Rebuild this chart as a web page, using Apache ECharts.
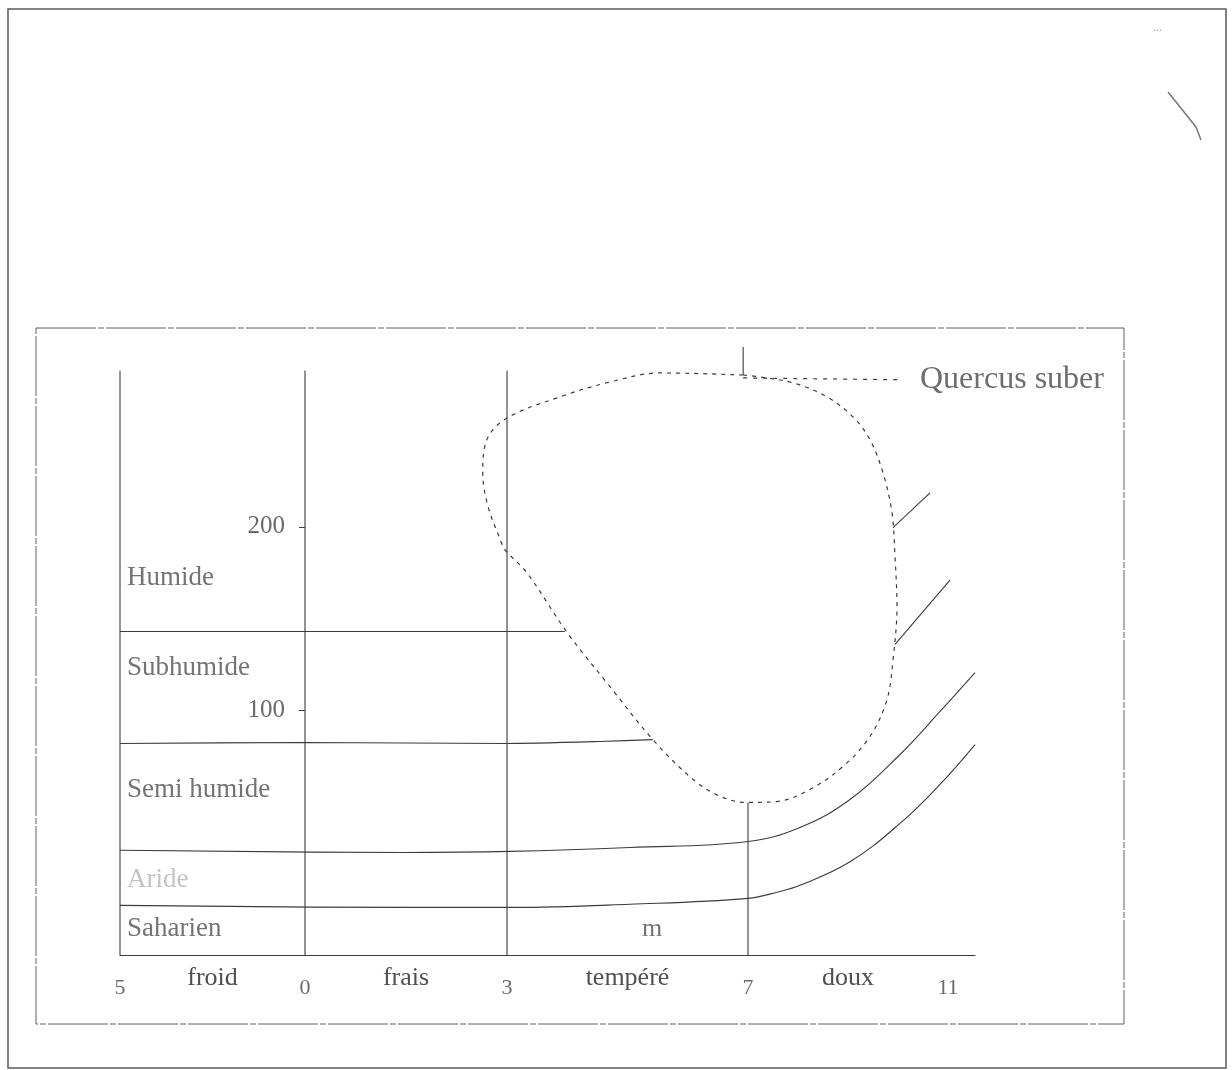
<!DOCTYPE html>
<html>
<head>
<meta charset="utf-8">
<script src="https://cdn.jsdelivr.net/npm/echarts@6/dist/echarts.min.js"></script>
<style>
  html, body { margin: 0; padding: 0; background: #ffffff; }
  #chart { width: 1232px; height: 1070px; }
</style>
</head>
<body>
<div id="chart"></div>
<script>
// Climagramme d'Emberger : quotient pluviothermique Q en fonction de m (°C)

// Axe des températures m
const mTicks = [-5, 0, 3, 7, 11];
const mTickLabels = ['5', '0', '3', '7', '11'];
const thermalZones = ['froid', 'frais', 'tempéré', 'doux'];
const mRight = 11.54;          // fin des courbes à droite

// Axe du quotient Q
const qTicks = [100, 200];
const qMin = -33;
const qMax = 300;

// Étages bioclimatiques (nom, niveau de Q de l'étiquette)
const bioclimates = ['Humide', 'Subhumide', 'Semi humide', 'Aride', 'Saharien'];
const bioclimateQ = [172, 123, 57, 8, -19];

// Limites verticales des variantes thermiques
const verticalM = [-5, 0, 3, 7];
const verticalTopQ = [285, 285, 285, 50];

// Limite Humide / Subhumide
const humSubM = [-5, 0, 3, 3.96];
const humSubQ = [143, 143, 143, 143];
// Prolongements à droite de l'aire
const upperRightM = [9.9, 10.64];
const upperRightQ = [199.5, 218.5];
const humSubRightM = [9.94, 11.04];
const humSubRightQ = [136, 171];

// Limite Subhumide / Semi humide
const subSemiM = [-5, 0, 3, 4.54, 5.42];
const subSemiQ = [82.1, 82.6, 82.1, 83.2, 84.2];

// Limite Semi humide / Aride
const semiAridM = [-5, 1.47, 3.05, 5.04, 7, 8.04, 9.04, 10.04, 10.84, 11.54];
const semiAridQ = [24, 22.8, 23.4, 25.5, 28.8, 36.4, 51.6, 76.1, 99.5, 120.7];

// Limite Aride / Saharien
const aridSahM = [-5, 1.47, 3.05, 5.04, 7, 7.6, 8.04, 9.04, 10.04, 10.84, 11.54];
const aridSahQ = [-6, -7.1, -7.1, -5.4, -2.2, 1.3, 4.9, 17.7, 38.6, 59.8, 81.5];

// Aire de Quercus suber (contour fermé)
const suberM = [6.92, 7.24, 7.9, 8.58, 9.1, 9.44, 9.7, 9.88, 9.94, 9.98, 9.9, 9.78, 9.44,
  8.9, 8.24, 7.58, 6.98, 6.54, 6.09, 5.42, 4.71, 4.0, 3.33, 2.97, 2.9, 2.72, 2.64, 2.7,
  3.0, 3.88, 4.71, 5.54, 6.92];
const suberQ = [282.6, 281.5, 278.3, 270.7, 259.8, 247.3, 229.3, 207.6, 183.7, 156.5, 127.7,
  106, 85.9, 69.6, 57.1, 50.5, 50, 53.3, 62.5, 84.2, 113, 142.4, 175, 187.5, 193, 210.9,
  229.3, 247.3, 259.2, 270.7, 278.8, 283.7, 282.6];

// Repère et trait de rappel vers le nom de l'espèce
const suberMarkM = [6.92, 6.92];
const suberMarkQ = [282.6, 297.8];
const suberLeaderM = [6.92, 10.04];
const suberLeaderQ = [281, 280];
const speciesName = 'Quercus suber';

// Position de la lettre m
const mLetterM = 5.41;
const mLetterQ = -19;

// Largeur dessinée de chaque bande thermique (mise en page, px)
const zoneWidths = [185, 202, 241, 200];

// Échelle de l'axe horizontal : linéaire par morceaux entre les seuils de m
function warp(m) {
  let i = 0;
  while (i < mTicks.length - 2 && m > mTicks[i + 1]) i++;
  let start = 0;
  for (let k = 0; k < i; k++) start += zoneWidths[k];
  return start + (m - mTicks[i]) / (mTicks[i + 1] - mTicks[i]) * zoneWidths[i];
}

function pts(ms, qs) {
  return ms.map((m, i) => [warp(m), qs[i]]);
}

const ink = '#3c3c3c';
const textInk = '#505050';
const serif = "'Liberation Serif', 'DejaVu Serif', serif";

const solid = (name, ms, qs, smooth) => ({
  name, type: 'line', data: pts(ms, qs), symbol: 'none', silent: true,
  smooth: smooth || false, clip: false,
  lineStyle: { color: ink, width: 1.1 }
});

const series = [];

verticalM.forEach((m, i) => {
  series.push(solid('v' + i, [m, m], [qMin, verticalTopQ[i]]));
});

series.push(solid('humSub', humSubM, humSubQ));
series.push(solid('upperRight', upperRightM, upperRightQ));
series.push(solid('humSubRight', humSubRightM, humSubRightQ));
series.push(solid('subSemi', subSemiM, subSemiQ, 0.2));
series.push(solid('semiArid', semiAridM, semiAridQ, 0.4));
series.push(solid('aridSah', aridSahM, aridSahQ, 0.4));
series.push(solid('suberMark', suberMarkM, suberMarkQ));

series.push({
  name: 'suber', type: 'line', data: pts(suberM, suberQ), symbol: 'none', silent: true,
  smooth: 0.35, clip: false,
  lineStyle: { color: ink, width: 1.2, type: [4, 5] }
});
series.push({
  name: 'suberLeader', type: 'line', data: pts(suberLeaderM, suberLeaderQ), symbol: 'none',
  silent: true, clip: false,
  lineStyle: { color: ink, width: 1.2, type: [4, 6] }
});

// Étiquettes de texte ancrées aux coordonnées du diagramme
const textPoint = (name, m, q, text, opts) => ({
  name, type: 'scatter', symbolSize: 0, silent: true, clip: false,
  data: [[warp(m), q]],
  label: Object.assign({
    show: true, formatter: text, color: textInk, fontFamily: serif, fontSize: 27
  }, opts)
});

bioclimates.forEach((b, i) => {
  series.push(textPoint('bio' + i, -5, bioclimateQ[i], b, {
    position: 'right', distance: 7,
    color: b === 'Aride' ? '#b4b4b4' : textInk
  }));
});
series.push(textPoint('speciesLabel', suberLeaderM[1], suberLeaderQ[1], speciesName, {
  position: 'right', distance: 20, fontSize: 32, color: '#484848'
}));
series.push(textPoint('mLetter', mLetterM, mLetterQ, 'm', {
  position: 'inside', fontSize: 26
}));

const xMin = warp(mTicks[0]);
const xMax = warp(mRight);
const zoneMids = thermalZones.map((z, i) => warp((mTicks[i] + mTicks[i + 1]) / 2));
const tickPos = mTicks.map(warp);

function nearestIndex(arr, v) {
  let best = 0;
  arr.forEach((a, i) => { if (Math.abs(a - v) < Math.abs(arr[best] - v)) best = i; });
  return best;
}

const chart = echarts.init(document.getElementById('chart'), null, { renderer: 'canvas' });
chart.setOption({
  animation: false,
  backgroundColor: '#ffffff',
  grid: { left: 120, right: 257, top: 343, bottom: 115, containLabel: false },
  xAxis: [
    {
      type: 'value', min: xMin, max: xMax, position: 'bottom',
      axisLine: { show: true, onZero: false, lineStyle: { color: ink, width: 1.2 } },
      axisTick: { show: false },
      splitLine: { show: false },
      axisLabel: {
        customValues: tickPos, margin: 22,
        formatter: v => mTickLabels[nearestIndex(tickPos, v)],
        color: '#6a6a6a', fontFamily: serif, fontSize: 22
      }
    },
    {
      type: 'value', min: xMin, max: xMax, position: 'bottom',
      axisLine: { show: false, onZero: false }, axisTick: { show: false },
      splitLine: { show: false },
      axisLabel: {
        customValues: zoneMids, margin: 10,
        formatter: v => thermalZones[nearestIndex(zoneMids, v)],
        color: textInk, fontFamily: serif, fontSize: 26
      }
    }
  ],
  yAxis: {
    type: 'value', min: qMin, max: qMax, position: 'left',
    offset: -(warp(0) - warp(mTicks[0])),
    axisLine: { show: false, onZero: false },
    axisTick: { show: true, customValues: qTicks, length: 6, lineStyle: { color: ink } },
    splitLine: { show: false },
    axisLabel: {
      customValues: qTicks, margin: 20,
      color: '#6a6a6a', fontFamily: serif, fontSize: 25
    }
  },
  graphic: [
    { type: 'rect', silent: true, shape: { x: 8, y: 9, width: 1218, height: 1059 },
      style: { fill: 'none', stroke: '#5a5a5a', lineWidth: 1.5 } },
    { type: 'rect', silent: true, shape: { x: 36, y: 328, width: 1088, height: 696 },
      style: { fill: 'none', stroke: '#606060', lineWidth: 1, lineDash: [60, 2, 6, 2] } },
    { type: 'polyline', silent: true,
      shape: { points: [[1168, 92], [1196, 127], [1201, 140]] },
      style: { fill: 'none', stroke: '#777', lineWidth: 1.5 } },
    { type: 'text', silent: true, x: 1153, y: 22,
      style: { text: '...', fill: '#aaa', fontSize: 12, fontFamily: serif } }
  ],
  series
});
</script>
</body>
</html>
